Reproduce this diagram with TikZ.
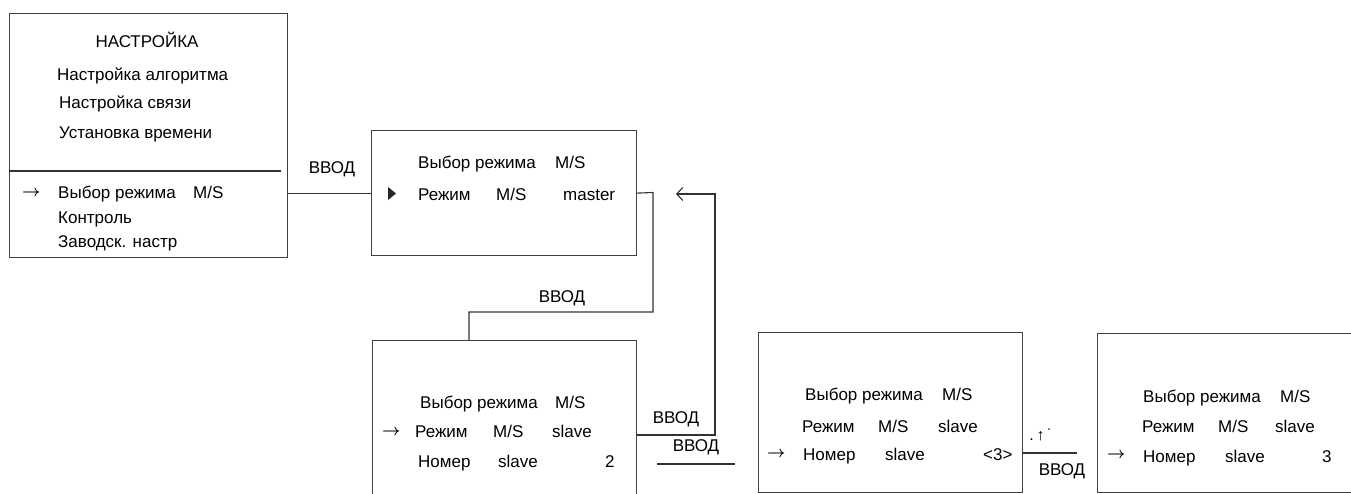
\documentclass[tikz,border=0pt]{standalone}
\usepackage{fontspec}
\setmainfont{Liberation Sans}
\usetikzlibrary{arrows.meta}

\begin{document}
\begin{tikzpicture}[x=1pt, y=-1pt, >={Straight Barb[length=6pt, width=13pt]},
    menu/.style={draw=black!75, line width=1.2pt, rectangle, anchor=north west, inner sep=0pt},
    link/.style={draw=black!80, line width=1.1pt},
    item/.style={anchor=base west, inner sep=0pt, font=\fontsize{17}{20}\selectfont},
    cursor/.style={anchor=west, inner sep=0pt, font=\boldmath},
    key/.style={inner sep=0pt, font=\fontsize{17}{20}\selectfont}]
    \useasboundingbox (0,0) rectangle (1351,493);
    \clip (0,0) rectangle (1351,493);
    % Main menu
    \node[menu, minimum width=278pt, minimum height=244pt] (setup) at (9,13) {};
    \draw[link] (setup.west |- 0,171) -- (281,171) coordinate (sepend);
    \node[key] (title) at (147,40) {НАСТРОЙКА};
    \node[item] (algo) at (57,80) {Настройка алгоритма};
    \node[item] (comm) at (59,108) {Настройка связи};
    \node[item] (clock) at (59,138) {Установка времени};
    \node[cursor] (cur1) at (22,193) {\scalebox{1.6}{$\rightarrow$}};
    \node[item] (sel1) at (58,198) {Выбор режима};
    \node[item] (ms1) at (193,198) {M/S};
    \node[item] (ctrl) at (58,223) {Контроль};
    \node[item] (fact) at (58,247) {Заводск. настр};
%
    % Mode M/S = master
    \node[menu, minimum width=265pt, minimum height=125pt] (master) at (371,130) {};
    \node[item] (sel2) at (418,168) {Выбор режима};
    \node[item] (ms2) at (555,168) {M/S};
    \fill[black!85] (388,187) -- (396,193.5) -- (388,200) -- cycle;
    \node[item] (mode2) at (418,200) {Режим};
    \node[item] (ms2b) at (496,200) {M/S};
    \node[item] (val2) at (563,200) {master};
    \draw[link] (setup.east |- master.west) -- (master.west);
    \node[key] (in1) at (332,169) {ВВОД};
%
    % Mode M/S = slave, number 2
    \node[menu, minimum width=264pt, minimum height=200pt] (slave) at (372,340) {};
    \node[item] (sel3) at (420,408) {Выбор режима};
    \node[item] (ms3) at (555,408) {M/S};
    \node[cursor] (cur3) at (382,432) {\scalebox{1.6}{$\rightarrow$}};
    \node[item] (mode3) at (415,437) {Режим};
    \node[item] (ms3b) at (493,437) {M/S};
    \node[item] (val3) at (552,437) {slave};
    \node[item] (num3) at (418,467) {Номер};
    \node[item] (sl3) at (498,467) {slave};
    \node[item] (no3) at (605,467) {2};
    \draw[link] (master.east) -- (653,192.5) |- (469,312) -- (slave.north -| 469,0);
    \node[key] (in2) at (562,298) {ВВОД};
    \coordinate (back) at (676,194);
    \draw[link, ->] (slave.east |- 0,435) -| (715,194) -- (back);
    \node[key] (in3) at (676,419) {ВВОД};
    \node[key] (in4) at (696,447) {ВВОД};
    \draw[link] (657,464) coordinate (barl) -- (735,464) coordinate (barr);
%
    % Number slave being edited
    \node[menu, minimum width=264pt, minimum height=160pt] (edit) at (758,332) {};
    \node[item] (sel4) at (805,400) {Выбор режима};
    \node[item] (ms4) at (942,400) {M/S};
    \node[item] (mode4) at (802,432) {Режим};
    \node[item] (ms4b) at (878,432) {M/S};
    \node[item] (val4) at (938,432) {slave};
    \node[cursor] (cur4) at (767,454) {\scalebox{1.6}{$\rightarrow$}};
    \node[item] (num4) at (803,460) {Номер};
    \node[item] (sl4) at (885,460) {slave};
    \node[item] (no4) at (983,460) {<3>};
    \coordinate (done) at (1077,453);
    \draw[link] (edit.east |- done) -- (done);
    \node[key, font=\fontsize{16}{16}\selectfont] (keys) at (1041,435) {.\,↑\,˙};
    \node[key] (in5) at (1062,471) {ВВОД};
%
    % Number slave stored
    \node[menu, minimum width=300pt, minimum height=159pt] (stored) at (1097,333) {};
    \node[item] (sel5) at (1143,402) {Выбор режима};
    \node[item] (ms5) at (1280,402) {M/S};
    \node[item] (mode5) at (1142,432) {Режим};
    \node[item] (ms5b) at (1218,432) {M/S};
    \node[item] (val5) at (1275,432) {slave};
    \node[cursor] (cur5) at (1107,455) {\scalebox{1.6}{$\rightarrow$}};
    \node[item] (num5) at (1143,462) {Номер};
    \node[item] (sl5) at (1225,462) {slave};
    \node[item] (no5) at (1322,462) {3};
\end{tikzpicture}
\end{document}
